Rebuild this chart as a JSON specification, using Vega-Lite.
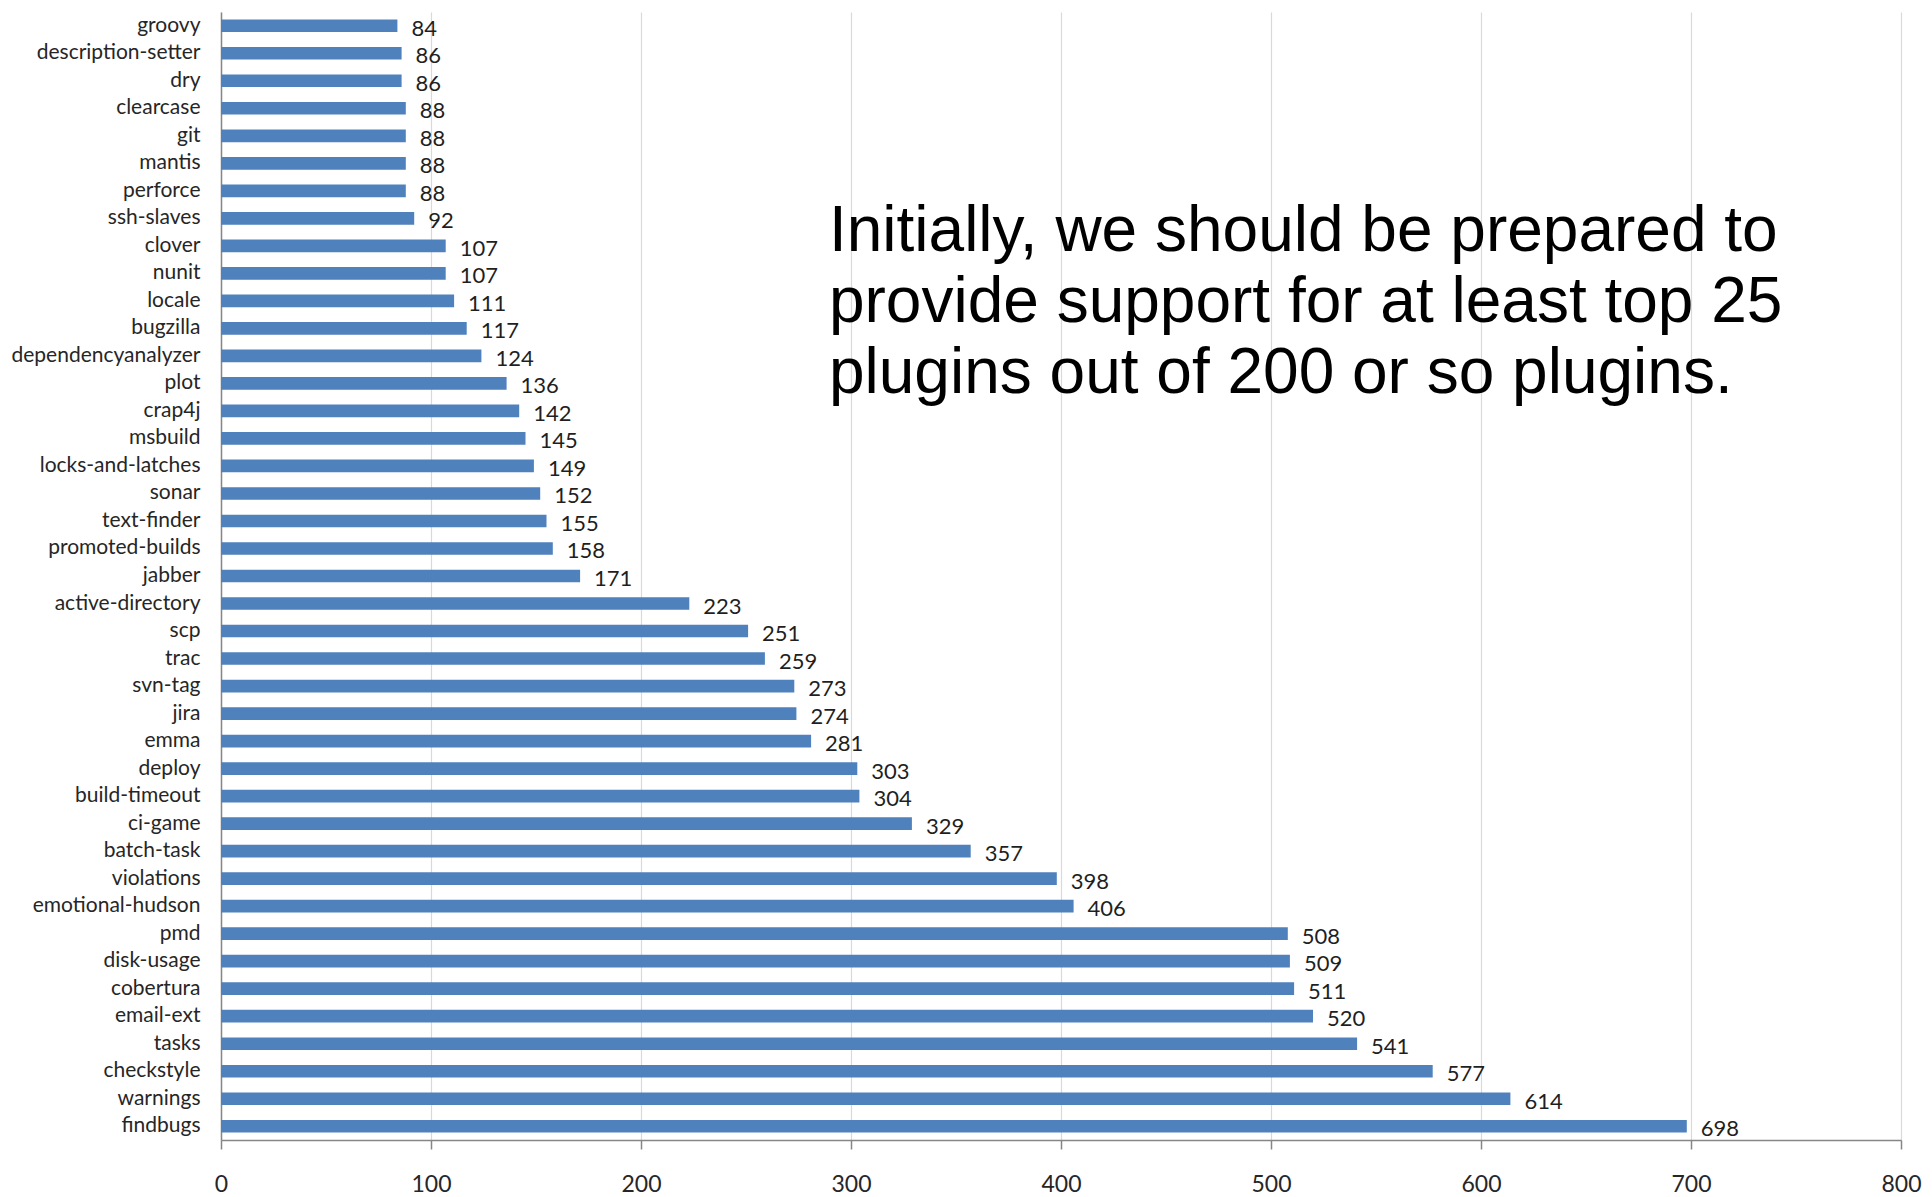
{
  "$schema": "https://vega.github.io/schema/vega-lite/v6.json",
  "width": 1680,
  "height": 1128,
  "autosize": {"type": "none"},
  "padding": {"left": 221, "top": 12, "right": 31, "bottom": 57},
  "background": "white",
  "config": {"view": {"stroke": null}},
  "encoding": {
    "y": {
      "field": "plugin",
      "type": "nominal",
      "sort": ["groovy", "description-setter", "dry", "clearcase", "git", "mantis", "perforce", "ssh-slaves", "clover", "nunit", "locale", "bugzilla", "dependencyanalyzer", "plot", "crap4j", "msbuild", "locks-and-latches", "sonar", "text-finder", "promoted-builds", "jabber", "active-directory", "scp", "trac", "svn-tag", "jira", "emma", "deploy", "build-timeout", "ci-game", "batch-task", "violations", "emotional-hudson", "pmd", "disk-usage", "cobertura", "email-ext", "tasks", "checkstyle", "warnings", "findbugs"],
      "scale": {"paddingInner": 0.54, "paddingOuter": 0.27},
      "axis": {
        "title": null,
        "ticks": false,
        "grid": false,
        "labelPadding": 21,
        "labelFont": "Lato",
        "labelFontSize": 21,
        "labelColor": "#262626",
        "labelLimit": 0,
        "domainColor": "#868686",
        "domainWidth": 1.5
      }
    },
    "x": {
      "field": "count",
      "type": "quantitative",
      "scale": {"domain": [0, 800], "nice": false},
      "axis": {
        "title": null,
        "values": [0, 100, 200, 300, 400, 500, 600, 700, 800],
        "grid": true,
        "gridColor": "#d9d9d9",
        "gridWidth": 1.2,
        "domainColor": "#868686",
        "domainWidth": 1.5,
        "tickColor": "#868686",
        "tickWidth": 1.5,
        "tickSize": 9,
        "labelFont": "Lato",
        "labelFontSize": 23,
        "labelColor": "#262626",
        "labelPadding": 24,
        "labelFlush": false
      }
    }
  },
  "layer": [
    {
      "data": {
        "values": [
          {"plugin": "groovy", "count": 84},
          {"plugin": "description-setter", "count": 86},
          {"plugin": "dry", "count": 86},
          {"plugin": "clearcase", "count": 88},
          {"plugin": "git", "count": 88},
          {"plugin": "mantis", "count": 88},
          {"plugin": "perforce", "count": 88},
          {"plugin": "ssh-slaves", "count": 92},
          {"plugin": "clover", "count": 107},
          {"plugin": "nunit", "count": 107},
          {"plugin": "locale", "count": 111},
          {"plugin": "bugzilla", "count": 117},
          {"plugin": "dependencyanalyzer", "count": 124},
          {"plugin": "plot", "count": 136},
          {"plugin": "crap4j", "count": 142},
          {"plugin": "msbuild", "count": 145},
          {"plugin": "locks-and-latches", "count": 149},
          {"plugin": "sonar", "count": 152},
          {"plugin": "text-finder", "count": 155},
          {"plugin": "promoted-builds", "count": 158},
          {"plugin": "jabber", "count": 171},
          {"plugin": "active-directory", "count": 223},
          {"plugin": "scp", "count": 251},
          {"plugin": "trac", "count": 259},
          {"plugin": "svn-tag", "count": 273},
          {"plugin": "jira", "count": 274},
          {"plugin": "emma", "count": 281},
          {"plugin": "deploy", "count": 303},
          {"plugin": "build-timeout", "count": 304},
          {"plugin": "ci-game", "count": 329},
          {"plugin": "batch-task", "count": 357},
          {"plugin": "violations", "count": 398},
          {"plugin": "emotional-hudson", "count": 406},
          {"plugin": "pmd", "count": 508},
          {"plugin": "disk-usage", "count": 509},
          {"plugin": "cobertura", "count": 511},
          {"plugin": "email-ext", "count": 520},
          {"plugin": "tasks", "count": 541},
          {"plugin": "checkstyle", "count": 577},
          {"plugin": "warnings", "count": 614},
          {"plugin": "findbugs", "count": 698}
        ]
      },
      "layer": [
        {"mark": {"type": "bar", "color": "#4f81bd"}},
        {
          "mark": {"type": "text", "align": "left", "baseline": "middle", "dx": 14, "dy": 3, "font": "Lato", "fontSize": 22, "color": "#1f1f1f"},
          "encoding": {"text": {"field": "count", "type": "quantitative"}}
        }
      ]
    },
    {
      "data": {
        "values": [
          {"plugin": "ssh-slaves", "count": 289.5, "note": "Initially, we should be prepared to\nprovide support for at least top 25\nplugins out of 200 or so plugins."}
        ]
      },
      "mark": {"type": "text", "align": "left", "baseline": "middle", "dy": 14, "font": "Liberation Sans", "fontSize": 64, "lineHeight": 71, "color": "#000000", "lineBreak": "\n"},
      "encoding": {"text": {"field": "note", "type": "nominal"}}
    }
  ]
}
